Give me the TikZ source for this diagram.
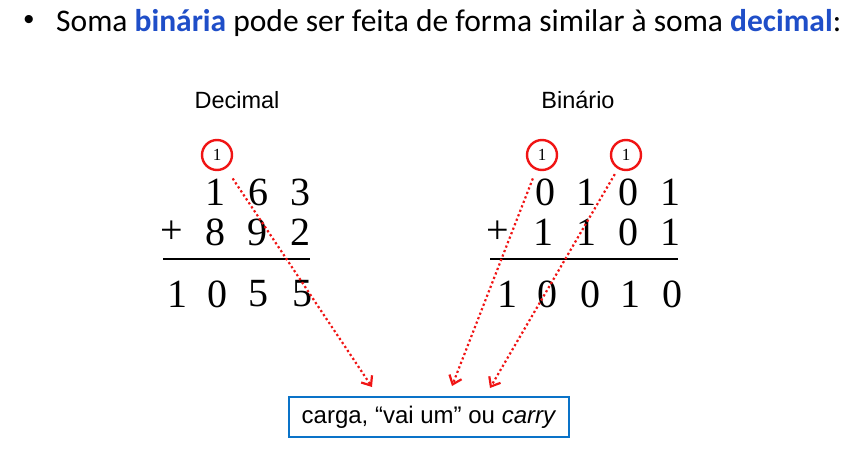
\documentclass[tikz,border=0pt]{standalone}
\usepackage{fontspec}
\setmainfont{Liberation Serif}
\newfontfamily\titlefont{Carlito}
\newfontfamily\labelfont{Liberation Sans}
\usetikzlibrary{arrows.meta}
\definecolor{titleblue}{RGB}{31,78,200}
\definecolor{boxblue}{RGB}{10,115,200}
\definecolor{carryred}{RGB}{240,20,20}
\begin{document}
\begin{tikzpicture}[x=1pt,y=-1pt,
  digit/.style={inner sep=0pt,font=\fontsize{40}{42}\selectfont},
  lbl/.style={inner sep=0pt,font=\labelfont\fontsize{23.5}{26}\selectfont},
  carry/.style={circle,draw=carryred,line width=2.4pt,minimum size=30pt,inner sep=0pt,font=\fontsize{17}{18}\selectfont},
  carryarrow/.style={draw=carryred,line width=2.2pt,dash pattern=on 2.2pt off 2.6pt,
     -{Straight Barb[length=8pt,width=13pt,line width=2.2pt]}},
  sumline/.style={line width=1.6pt}
]
\useasboundingbox (0,0) rectangle (863,468);
% title
\node[inner sep=0pt,font=\fontsize{30}{34}\selectfont] (bullet) at (29,22) {\labelfont •};
\node[anchor=base west,inner sep=0pt,font=\titlefont\fontsize{31.5}{34}\selectfont] (title) at (56,32)
  {Soma \textbf{\color{titleblue}binária} pode ser feita de forma similar à soma \textbf{\color{titleblue}decimal}:};
% labels
\node[lbl] (dlabel) at (237,100) {Decimal};
\node[lbl] (blabel) at (578,100) {Binário};
% decimal
\node[carry] (c1) at (217,155) {1};
\node[digit] (d11) at (215,192) {1};
\node[digit] (d12) at (258,192) {6};
\node[digit] (d13) at (300,192) {3};
\node[digit] (dp) at (172,232) {+};
\node[digit] (d21) at (215,232) {8};
\node[digit] (d22) at (257,232) {9};
\node[digit] (d23) at (300,232) {2};
\coordinate (dl1) at (163,259);
\coordinate (dl2) at (310,259);
\draw[sumline] (dl1) -- (dl2);
\node[digit] (d31) at (177,294) {1};
\node[digit] (d32) at (217,294) {0};
\node[digit] (d33) at (258,294) {5};
\node[digit] (d34) at (302,294) {5};
% binary
\node[carry] (c2) at (542,155) {1};
\node[carry] (c3) at (626,155) {1};
\node[digit] (b11) at (545,192) {0};
\node[digit] (b12) at (586,192) {1};
\node[digit] (b13) at (628,192) {0};
\node[digit] (b14) at (670,192) {1};
\node[digit] (bp) at (498,232) {+};
\node[digit] (b21) at (543,232) {1};
\node[digit] (b22) at (586,232) {1};
\node[digit] (b23) at (628,232) {0};
\node[digit] (b24) at (670,232) {1};
\coordinate (bl1) at (490,259);
\coordinate (bl2) at (678,259);
\draw[sumline] (bl1) -- (bl2);
\node[digit] (b31) at (507,294) {1};
\node[digit] (b32) at (547,294) {0};
\node[digit] (b33) at (590,294) {0};
\node[digit] (b34) at (630,294) {1};
\node[digit] (b35) at (672,294) {0};
% box
\node[draw=boxblue,line width=2.5pt,minimum width=280pt,minimum height=40pt,inner sep=0pt,
  font=\labelfont\fontsize{24}{26}\selectfont] (box) at (429,417) {carga, “vai um” ou \textit{carry}};
% arrow tips
\coordinate (t1) at (372,387);
\coordinate (t2) at (452,386);
\coordinate (t3) at (490,388);
\draw[carryarrow,shorten <=12pt] (c1) -- (t1);
\draw[carryarrow,shorten <=9pt] (c2) -- (t2);
\draw[carryarrow,shorten <=6pt] (c3) -- (t3);
\end{tikzpicture}
\end{document}
